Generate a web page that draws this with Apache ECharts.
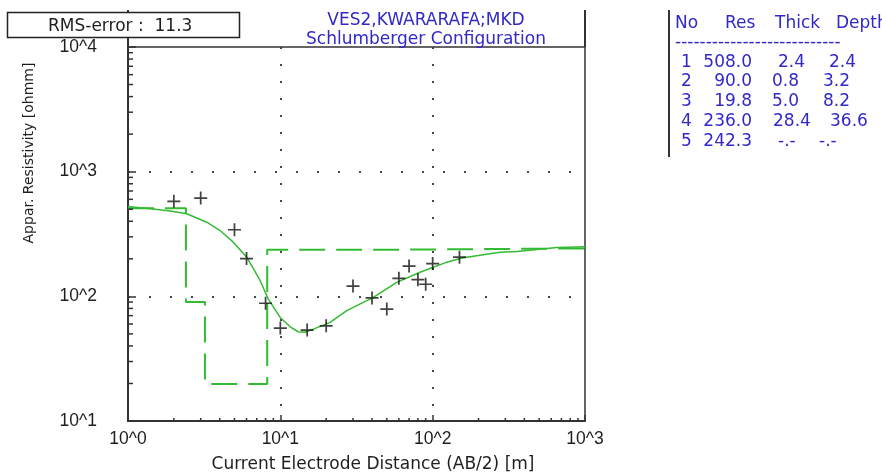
<!DOCTYPE html>
<html>
<head>
<meta charset="utf-8">
<script src="https://cdn.jsdelivr.net/npm/echarts@6/dist/echarts.min.js"></script>
<style>
html,body{margin:0;padding:0;background:#ffffff;}
#c{width:882px;height:475px;}
</style>
</head>
<body>
<div id="c"></div>
<script>
// ---- Data ----
const obsAB2 = [2.0, 3.0, 5.0, 6.0, 8.0, 10, 15, 20, 30, 40, 50, 60, 70, 80, 90, 100, 150];
const obsRho = [578, 614, 342, 201, 88, 55.6, 53.6, 58, 121, 97, 79, 139.5, 175, 136, 125, 183, 206];

const calcAB2 = [1, 1.46, 1.89, 2.43, 3.29, 4.02, 4.91, 6.02, 7.36, 8.34, 9.95, 11.6, 13.1, 14.5, 16.5, 21.2, 27.3, 40.8, 58.1, 82.6, 124, 151, 167, 277, 358, 655, 1000];
const calcRho = [526, 502, 484, 460, 393, 337, 272, 206, 134, 95, 68, 57, 52, 51.5, 54.6, 61.8, 76.7, 98, 129.5, 156, 188, 201, 206, 226, 229, 246, 250];

const layerNo    = ['1', '2', '3', '4', '5'];
const layerRes   = ['508.0', '90.0', '19.8', '236.0', '242.3'];
const layerThick = ['2.4', '0.8', '5.0', '28.4', '-.-'];
const layerDepth = ['2.4', '3.2', '8.2', '36.6', '-.-'];
const modelTopDepth = [1, 2.4, 3.2, 8.2, 36.6, 1000];   // plotted boundaries (axis start, depths, axis end)
const modelRes      = [508.0, 90.0, 19.8, 236.0, 242.3, 242.3];

const xTickLabels = ['10^0', '10^1', '10^2', '10^3'];
const yTickLabels = ['10^1', '10^2', '10^3', '10^4'];

const titleLines = ['VES2,KWARARAFA;MKD', 'Schlumberger Configuration'];
const rmsText = 'RMS-error :  11.3';
const tableHeader = ['No', 'Res', 'Thick', 'Depth'];
const xName = 'Current Electrode Distance (AB/2) [m]';
const yName = 'Appar. Resistivity [ohmm]';

// ---- Layout / style ----
const GL = 128, GT = 47, GR = 585, GB = 421;
const blue = '#3228c8';
const green = '#33bb33';
const axisCol = '#333333';
const tickFont = 'Liberation Sans';

const chart = echarts.init(document.getElementById('c'), null, {renderer: 'canvas'});

function lblX(v) { return xTickLabels[Math.round(Math.log10(v))] || ''; }
function lblY(v) { return yTickLabels[Math.round(Math.log10(v)) - 1] || ''; }

const option = {
  backgroundColor: '#ffffff',
  animation: false,
  grid: {left: GL, top: GT, right: 882 - GR, bottom: 475 - GB, show: true, borderColor: axisCol, borderWidth: 1.5, backgroundColor: 'transparent'},
  xAxis: {
    type: 'log', logBase: 10, min: 1, max: 1000,
    axisLine: {show: true, lineStyle: {color: axisCol, width: 2}},
    axisTick: {show: true, inside: true, length: 6, lineStyle: {color: axisCol, width: 1.5}},
    axisLabel: {formatter: lblX, fontFamily: tickFont, fontSize: 17.5, color: '#1e1e1e', margin: 9},
    splitLine: {show: true, showMinLine: false, showMaxLine: false, lineStyle: {color: '#444', width: 2, type: [2, 15]}},
    minorTick: {show: false}
  },
  yAxis: {
    type: 'log', logBase: 10, min: 10, max: 10000,
    axisLine: {show: true, lineStyle: {color: axisCol, width: 2}},
    axisTick: {show: true, inside: true, length: 8, lineStyle: {color: axisCol, width: 1.5}},
    axisLabel: {formatter: lblY, fontFamily: tickFont, fontSize: 17.5, color: '#1e1e1e', margin: 31},
    splitLine: {show: true, showMinLine: false, showMaxLine: false, lineStyle: {color: '#444', width: 2, type: [2, 19]}}
  },
  series: [
    {
      type: 'line', step: 'end', symbol: 'none', z: 2,
      data: modelTopDepth.map((d, i) => [d, modelRes[i]]),
      lineStyle: {color: green, width: 2, type: [26, 11]}
    },
    {
      type: 'line', symbol: 'none', smooth: false, z: 3,
      data: calcAB2.map((d, i) => [d, calcRho[i]]),
      lineStyle: {color: green, width: 1.5}
    },
    {
      type: 'scatter', z: 4,
      symbol: 'path://M5.2,0H6.8V5.2H12V6.8H6.8V12H5.2V6.8H0V5.2H5.2Z',
      symbolSize: 13,
      itemStyle: {color: '#111111'},
      data: obsAB2.map((d, i) => [d, obsRho[i]])
    }
  ]
};
chart.setOption(option);

// ---- decorations (minor log ticks, frame extensions, texts) ----
const g = [];
const y0 = chart.convertToPixel({yAxisIndex: 0}, 10);
const x0 = chart.convertToPixel({xAxisIndex: 0}, 1);
for (const dec of [1, 10, 100]) {
  for (let m = 2; m <= 9; m++) {
    const px = chart.convertToPixel({xAxisIndex: 0}, dec * m);
    g.push({type: 'line', z: 10, shape: {x1: px, y1: y0, x2: px, y2: y0 - 3}, style: {stroke: axisCol, lineWidth: 1.5}});
  }
}
for (const dec of [10, 100, 1000]) {
  for (let m = 2; m <= 9; m++) {
    const py = chart.convertToPixel({yAxisIndex: 0}, dec * m);
    g.push({type: 'line', z: 10, shape: {x1: x0, y1: py, x2: x0 + 5, y2: py}, style: {stroke: axisCol, lineWidth: 1.5}});
  }
}
// frame extensions above 10^4
g.push({type: 'line', z: 10, shape: {x1: GL, y1: 10, x2: GL, y2: GT}, style: {stroke: axisCol, lineWidth: 2}});
g.push({type: 'line', z: 10, shape: {x1: GR, y1: 10, x2: GR, y2: GT}, style: {stroke: axisCol, lineWidth: 2}});
g.push({type: 'line', z: 10, shape: {x1: 669, y1: 10, x2: 669, y2: 157}, style: {stroke: axisCol, lineWidth: 2}});
// RMS box
g.push({type: 'rect', z: 20, shape: {x: 7.5, y: 12.5, width: 232, height: 25}, style: {fill: '#ffffff', stroke: '#222', lineWidth: 1.5}});
g.push({type: 'text', z: 21, x: 48, y: 27, style: {text: rmsText, fontFamily: 'DejaVu Sans', fontSize: 17, fill: '#1e1e1e', align: 'left', verticalAlign: 'middle'}});
// title
g.push({type: 'text', z: 21, x: 426, y: 21, style: {text: titleLines[0], fontFamily: 'DejaVu Sans', fontSize: 17, fill: blue, align: 'center', verticalAlign: 'middle'}});
g.push({type: 'text', z: 21, x: 426, y: 40, style: {text: titleLines[1], fontFamily: 'DejaVu Sans', fontSize: 17, fill: blue, align: 'center', verticalAlign: 'middle'}});
// axis names
g.push({type: 'text', z: 21, x: 373, y: 465, style: {text: xName, fontFamily: 'DejaVu Sans', fontSize: 17, fill: '#1e1e1e', align: 'center', verticalAlign: 'middle'}});
g.push({type: 'text', z: 21, x: 29, y: 153, rotation: Math.PI / 2, style: {text: yName, fontFamily: 'DejaVu Sans', fontSize: 14, fill: '#1e1e1e', align: 'center', verticalAlign: 'middle'}});
// table
const hdrX = [675, 725, 775, 836];
tableHeader.forEach((t, i) => g.push({type: 'text', z: 21, x: hdrX[i], y: 24, style: {text: t, fontFamily: 'DejaVu Sans', fontSize: 17, fill: blue, align: 'left', verticalAlign: 'middle'}}));
g.push({type: 'text', z: 21, x: 675, y: 43, style: {text: '---------------------------', fontFamily: 'DejaVu Sans', fontSize: 17, fill: blue, align: 'left', verticalAlign: 'middle'}});
const rowY = [63, 82, 102, 122, 142];
const resRight = 752;
const thickX = [778, 772, 772, 773, 778];
const depthX = [829, 823, 823, 830, 819];
layerNo.forEach((n, i) => {
  const st = {fontFamily: 'DejaVu Sans', fontSize: 17, fill: blue, verticalAlign: 'middle'};
  g.push({type: 'text', z: 21, x: 681, y: rowY[i], style: Object.assign({text: n, align: 'left'}, st)});
  g.push({type: 'text', z: 21, x: resRight, y: rowY[i], style: Object.assign({text: layerRes[i], align: 'right'}, st)});
  g.push({type: 'text', z: 21, x: thickX[i], y: rowY[i], style: Object.assign({text: layerThick[i], align: 'left'}, st)});
  g.push({type: 'text', z: 21, x: depthX[i], y: rowY[i], style: Object.assign({text: layerDepth[i], align: 'left'}, st)});
});
chart.setOption({graphic: g});
</script>
</body>
</html>
